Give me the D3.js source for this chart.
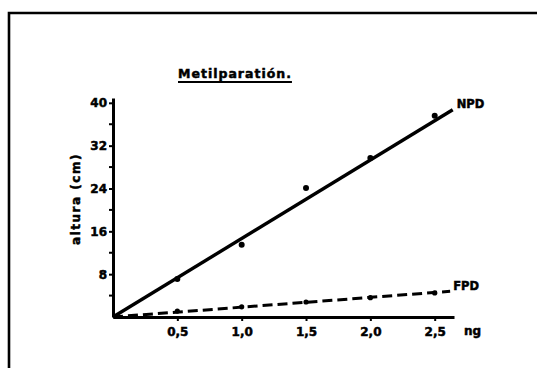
<!DOCTYPE html>
<html>
<head>
<meta charset="utf-8">
<script src="https://cdn.jsdelivr.net/npm/d3@7"></script>
<style>
  html, body { margin: 0; padding: 0; background: #fff; }
  svg { display: block; }
  text { font-family: "DejaVu Sans", sans-serif; font-weight: bold; fill: #000; stroke: #000; stroke-width: 0.5px; }
</style>
</head>
<body>
<script>
// Dose (ng) against peak height (cm) for methyl parathion, NPD and FPD detectors
const doses = [0.5, 1.0, 1.5, 2.0, 2.5];
const npdHeights = [7.1, 13.5, 24.1, 29.7, 37.6];
const fpdHeights = [1.1, 1.9, 2.8, 3.6, 4.5];

// fitted calibration lines (start and end points, in data units)
const npdFit = [[0, 0], [2.64, 38.7]];
const fpdFit = [[0, 0], [2.62, 4.8]];

const xTickValues = [0.5, 1.0, 1.5, 2.0, 2.5];
const xTickLabels = ["0,5", "1,0", "1,5", "2,0", "2,5"];
const yTickValues = [8, 16, 24, 32, 40];
const yMinorTicks = [4, 12, 20, 28, 36];

const titleText = "Metilparatión.";
const yLabel = "altura (cm)";
const xUnit = "ng";
const seriesNames = ["NPD", "FPD"];

const W = 537, H = 368;
const svg = d3.select("body").append("svg").attr("width", W).attr("height", H);

// page frame (top and left edges)
svg.append("path")
  .attr("d", `M9,${H + 5} L9,13 L${W + 5},13`)
  .attr("fill", "none").attr("stroke", "#000").attr("stroke-width", 2.6);

const x = d3.scaleLinear().domain([0, 2.65]).range([113, 454]);
const y = d3.scaleLinear().domain([0, 40.9]).range([317, 98]);

// x axis
const gx = svg.append("g").attr("transform", `translate(0,${y(0)})`)
  .call(d3.axisBottom(x).tickValues(xTickValues)
    .tickFormat((d, i) => xTickLabels[i]).tickSize(4).tickSizeOuter(0).tickPadding(6));
gx.select(".domain").attr("stroke-width", 3);
gx.selectAll(".tick line").attr("stroke-width", 2);
gx.selectAll(".tick text").attr("font-size", 12).attr("font-family", null).attr("fill", null);

// y axis
const gy = svg.append("g").attr("transform", `translate(${x(0)},0)`)
  .call(d3.axisLeft(y).tickValues(yTickValues).tickSize(4).tickSizeOuter(0).tickPadding(2));
gy.select(".domain").attr("stroke-width", 3);
gy.selectAll(".tick line").attr("stroke-width", 2);
gy.selectAll(".tick text").attr("font-size", 12).attr("font-family", null).attr("fill", null);

// minor ticks on y axis
svg.append("g").selectAll("line").data(yMinorTicks).join("line")
  .attr("x1", x(0) - 4).attr("x2", x(0))
  .attr("y1", d => y(d)).attr("y2", d => y(d))
  .attr("stroke", "#000").attr("stroke-width", 2);

// axis captions
svg.append("text").attr("x", 464).attr("y", 335).attr("font-size", 12).text(xUnit);
svg.append("text")
  .attr("transform", `translate(80,199) rotate(-90)`)
  .attr("text-anchor", "middle").attr("font-size", 12)
  .attr("letter-spacing", 1.5).text(yLabel);

// title with underline
const title = svg.append("text").attr("x", 178).attr("y", 78)
  .attr("font-size", 12.5).attr("letter-spacing", 1).text(titleText);
const tw = title.node().getComputedTextLength();
svg.append("line").attr("x1", 178).attr("x2", 178 + tw).attr("y1", 82).attr("y2", 82)
  .attr("stroke", "#000").attr("stroke-width", 2);

const line = d3.line().x(d => x(d[0])).y(d => y(d[1]));

// NPD fit (solid)
svg.append("path").datum(npdFit).attr("d", line)
  .attr("fill", "none").attr("stroke", "#000").attr("stroke-width", 3.4);

// FPD fit (dashed)
svg.append("path").datum(fpdFit).attr("d", line)
  .attr("fill", "none").attr("stroke", "#000").attr("stroke-width", 3)
  .attr("stroke-dasharray", "10,5");

// measured points
svg.append("g").selectAll("circle").data(doses).join("circle")
  .attr("cx", d => x(d)).attr("cy", (d, i) => y(npdHeights[i])).attr("r", 3).attr("fill", "#000");
svg.append("g").selectAll("circle").data(doses).join("circle")
  .attr("cx", d => x(d)).attr("cy", (d, i) => y(fpdHeights[i])).attr("r", 2.6).attr("fill", "#000");

// series labels at the line ends
svg.append("text").attr("x", x(npdFit[1][0]) + 4).attr("y", 108).attr("font-size", 11.5).text(seriesNames[0]);
svg.append("text").attr("x", x(fpdFit[1][0]) + 3).attr("y", 290).attr("font-size", 11.5).text(seriesNames[1]);
</script>
</body>
</html>
